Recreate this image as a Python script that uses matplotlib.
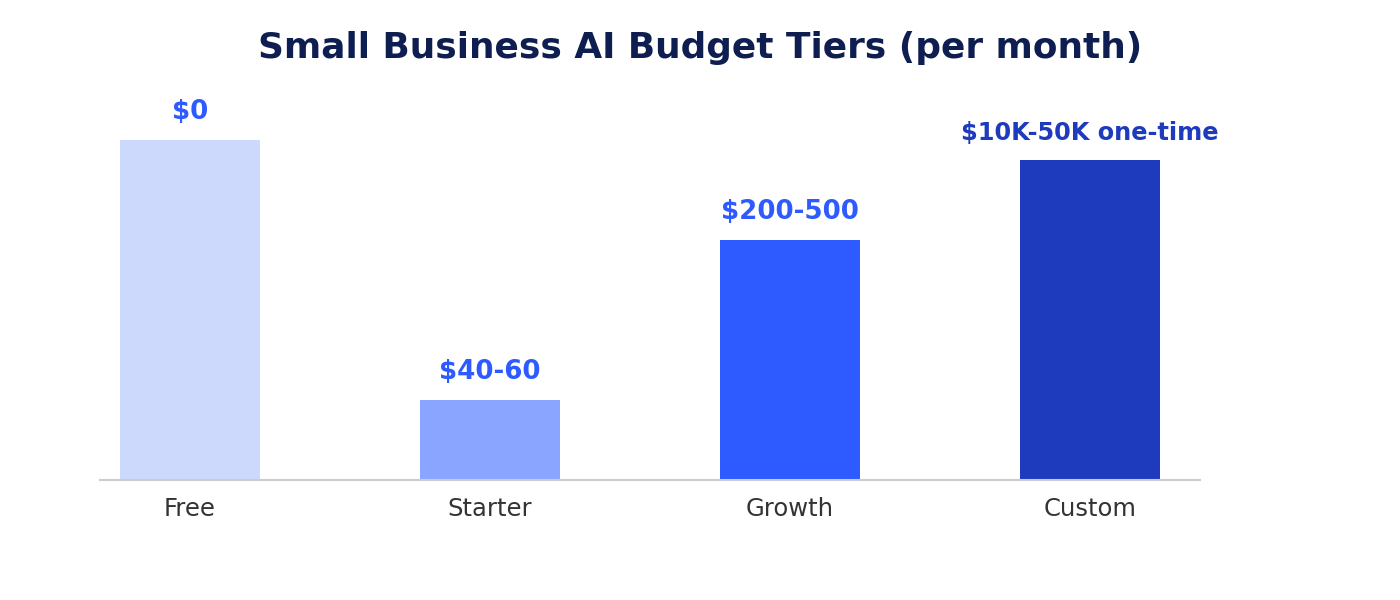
import matplotlib
matplotlib.use("Agg")
import matplotlib.pyplot as plt

plt.rcParams["font.family"] = ["DejaVu Sans"]

categories = ["Free", "Starter", "Growth", "Custom"]
values = [85, 20, 60, 80]
labels = ["$0", "$40-60", "$200-500", "$10K-50K one-time"]
bar_colors = ["#CCD9FD", "#89A5FF", "#2D5BFF", "#1E3BBE"]
label_colors = ["#2D5BFF", "#2D5BFF", "#2D5BFF", "#1E3BBE"]
label_sizes = [18.8, 18.8, 18.8, 17.3]

fig = plt.figure(figsize=(14, 6), dpi=100)
ax = fig.add_axes([100/1400, 120/600, 1100/1400, 400/600])
x = list(range(len(categories)))
ax.bar(x, values, width=140/300, color=bar_colors)
ax.set_xlim(-0.3, 3 + 110/300)
ax.set_ylim(0, 100)

for xi, v, lab, c, s in zip(x, values, labels, label_colors, label_sizes):
    ax.annotate(lab, (xi, v), xytext=(0, 11), textcoords="offset points",
                ha="center", va="bottom", fontsize=s, fontweight="bold", color=c)

ax.set_xticks(x)
ax.set_xticklabels(categories, fontsize=17.5, color="#333333")
ax.tick_params(axis="x", length=0, pad=12.5)
ax.set_yticks([])
for sp in ["top", "right", "left"]:
    ax.spines[sp].set_visible(False)
ax.spines["bottom"].set_color("#CCCCCC")
ax.spines["bottom"].set_linewidth(1.5)

fig.text(700/1400, 1 - 48/600, "Small Business AI Budget Tiers (per month)",
         ha="center", va="center", fontsize=25.85, fontweight="bold", color="#0F1E50")

fig.savefig("out.png", dpi=100, facecolor="white")
